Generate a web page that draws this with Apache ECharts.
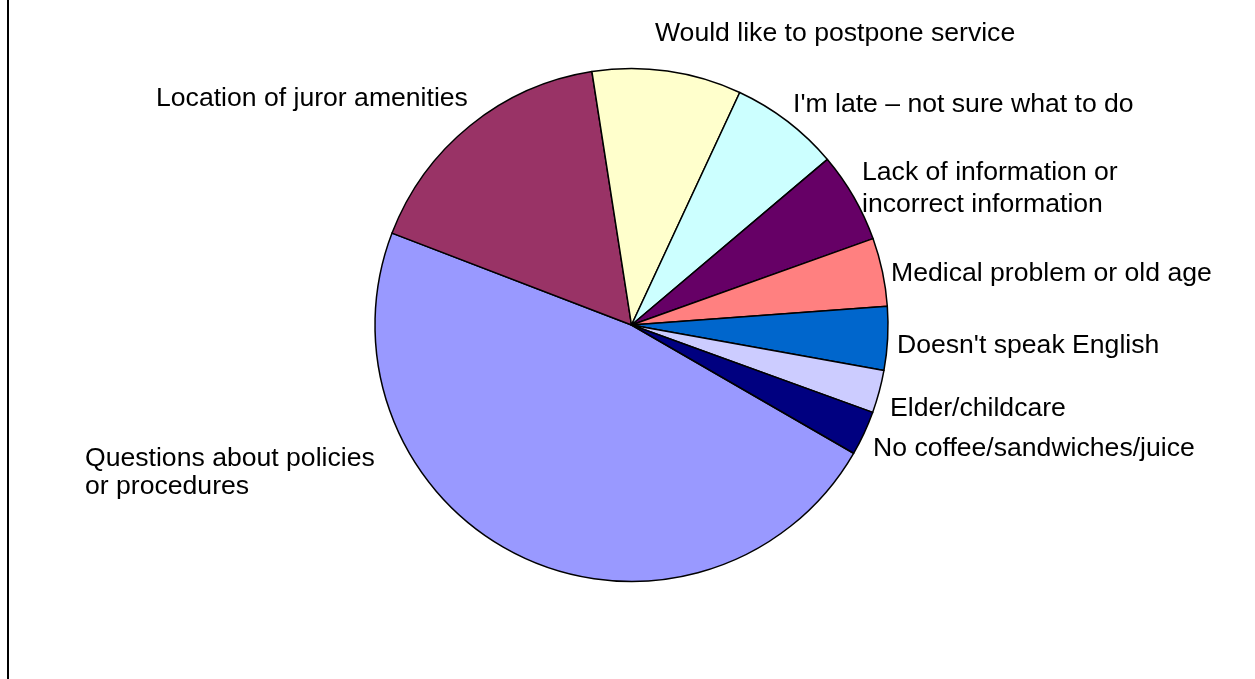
<!DOCTYPE html>
<html>
<head>
<meta charset="utf-8">
<title>Juror inquiries by topic</title>
<script src="https://cdn.jsdelivr.net/npm/echarts@6/dist/echarts.min.js"></script>
<style>
  html, body { margin: 0; padding: 0; background: #ffffff; }
  #chart { width: 1255px; height: 679px; }
</style>
</head>
<body>
<div id="chart"></div>
<script>
// Inquiry topics, in drawing order (clockwise)
const categories = [
  'Questions about policies\nor procedures',
  'Location of juror amenities',
  'Would like to postpone service',
  "I'm late \u2013 not sure what to do",
  'Lack of information or\nincorrect information',
  'Medical problem or old age',
  "Doesn't speak English",
  'Elder/childcare',
  'No coffee/sandwiches/juice'
];

// Share of inquiries (%)
const shares = [47.5, 16.7, 9.4, 6.9, 5.7, 4.3, 4.0, 2.7, 2.8];

// Classic office palette, one colour per slice
const sliceColors = [
  '#9999FF', '#993366', '#FFFFCC', '#CCFFFF', '#660066',
  '#FF8080', '#0066CC', '#CCCCFF', '#000080'
];

// Where each label's left edge / vertical middle sits
const labelAnchors = [
  [85, 473], [156, 99], [655, 33.5], [793, 105], [862, 189],
  [891, 273.5], [897, 345.5], [890, 409], [873, 449]
];
const labelLineHeights = [28, 31, 31, 31, 32, 31, 31, 31, 31];

const data = categories.map((name, i) => ({
  name: name,
  value: shares[i],
  itemStyle: { color: sliceColors[i] },
  label: { lineHeight: labelLineHeights[i] }
}));

const chart = echarts.init(document.getElementById('chart'), null, { renderer: 'canvas' });

chart.setOption({
  animation: false,
  backgroundColor: '#ffffff',
  graphic: [{
    type: 'rect',
    shape: { x: 7, y: 0, width: 2, height: 679 },
    style: { fill: '#000000' },
    silent: true
  }],
  series: [{
    type: 'pie',
    center: [631.5, 325],
    radius: 256.5,
    startAngle: 330,
    clockwise: true,
    avoidLabelOverlap: false,
    itemStyle: { borderColor: '#000000', borderWidth: 1.5 },
    label: {
      show: true,
      position: 'outside',
      formatter: '{b}',
      color: '#000000',
      fontFamily: '"Liberation Sans", Arial, sans-serif',
      fontSize: 26.6,
      fontWeight: 'normal'
    },
    labelLine: { show: false },
    labelLayout: function (params) {
      const a = labelAnchors[params.dataIndex];
      return { x: a[0], y: a[1], align: 'left', verticalAlign: 'middle' };
    },
    emphasis: { disabled: true },
    data: data
  }]
});
</script>
</body>
</html>
